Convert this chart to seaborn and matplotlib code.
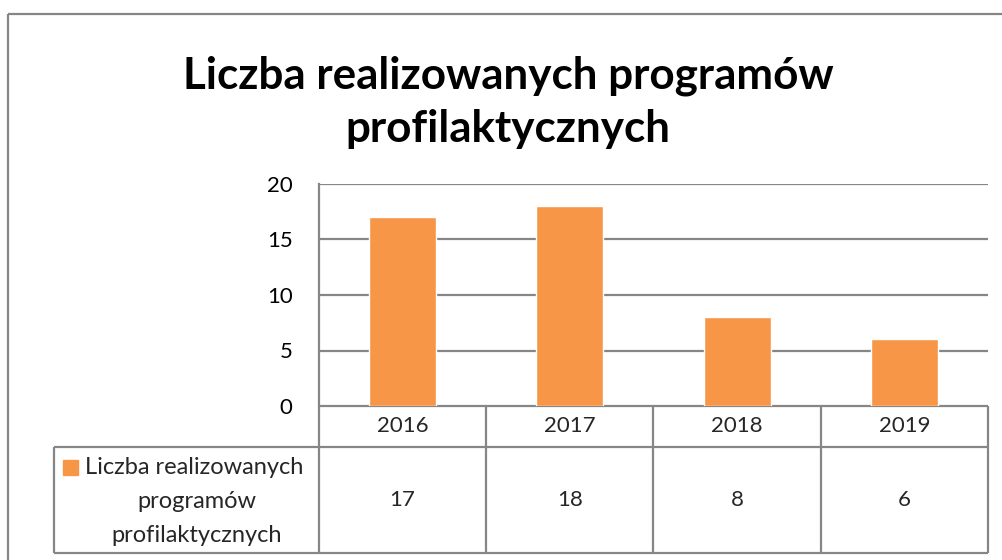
import matplotlib
matplotlib.use("Agg")
import matplotlib.pyplot as plt
import pandas as pd
import seaborn as sns
from matplotlib.lines import Line2D
from matplotlib.patches import Rectangle

years = ["2016", "2017", "2018", "2019"]
values = [17, 18, 8, 6]
series_name = "Liczba realizowanych programów profilaktycznych"
title = "Liczba realizowanych programów\nprofilaktycznych"
yticks = [0, 5, 10, 15, 20]

ORANGE = "#F79646"
GRID = "#868686"
FS = 16

sns.set_theme(style="white")
plt.rcParams["font.family"] = ["Lato", "DejaVu Sans"]

W, H = 1003, 560
fig = plt.figure(figsize=(W / 100, H / 100), dpi=100)

# overlay in pixel coordinates for frame, title and data table
ov = fig.add_axes([0, 0, 1, 1])
ov.set_xlim(0, W)
ov.set_ylim(H, 0)
ov.axis("off")

# plot area (pixels)
x0, x1 = 319, 988
y_top, y_base = 184, 406
ax = fig.add_axes([x0 / W, (H - y_base) / H, (x1 - x0) / W, (y_base - y_top) / H])

df = pd.DataFrame({"year": years, "value": values})
sns.barplot(data=df, x="year", y="value", color=ORANGE, saturation=1,
            width=0.4, ax=ax, zorder=3)
ax.set_ylim(0, 20)
ax.set_xlim(-0.5, len(years) - 0.5)
ax.set_yticks(yticks)
ax.set_yticklabels([str(t) for t in yticks], fontsize=FS, color="black")
ax.set_xticks([])
ax.set_xlabel("")
ax.set_ylabel("")
ax.tick_params(axis="y", length=0, pad=19)
for t in yticks[1:]:
    ax.axhline(t, color=GRID, lw=1.6, zorder=1)
for s in ["top", "right", "bottom"]:
    ax.spines[s].set_visible(False)
ax.spines["left"].set_color(GRID)
ax.spines["left"].set_linewidth(1.6)
ax.set_facecolor("none")

# outer chart frame
lc = dict(color=GRID, lw=1.6, solid_capstyle="butt")
ov.add_line(Line2D([8, 8], [14, H], **lc))
ov.add_line(Line2D([8, W], [14, 14], **lc))

# title
ov.text(508, 102, title, ha="center", va="center", fontsize=31.7,
        fontweight="bold", color="black", linespacing=1.38)

# data table
row1, row2, row3 = 406, 447, 553
leg_l = 54
colw = (x1 - x0) / len(years)
ov.add_line(Line2D([x0, x1], [row1, row1], **lc))
ov.add_line(Line2D([leg_l, x1], [row2, row2], **lc))
ov.add_line(Line2D([leg_l, x1], [row3, row3], **lc))
ov.add_line(Line2D([leg_l, leg_l], [row2, row3], **lc))
for i in range(len(years) + 1):
    xx = x0 + i * colw
    ov.add_line(Line2D([xx, xx], [row1, row3], **lc))
for i, (yr, v) in enumerate(zip(years, values)):
    cx = x0 + (i + 0.5) * colw
    ov.text(cx, (row1 + row2) / 2, yr, ha="center", va="center", fontsize=FS)
    ov.text(cx, (row2 + row3) / 2, str(v), ha="center", va="center", fontsize=FS)

# legend key inside the row header
ov.add_patch(Rectangle((63, 460), 15, 15, color=ORANGE))
words = series_name.split()
ov.text(85, 467, " ".join(words[:2]), ha="left", va="center", fontsize=17)
ov.text(197, 501, words[2], ha="center", va="center", fontsize=17)
ov.text(197, 535, words[3], ha="center", va="center", fontsize=17)

fig.savefig("out.png", dpi=100)
